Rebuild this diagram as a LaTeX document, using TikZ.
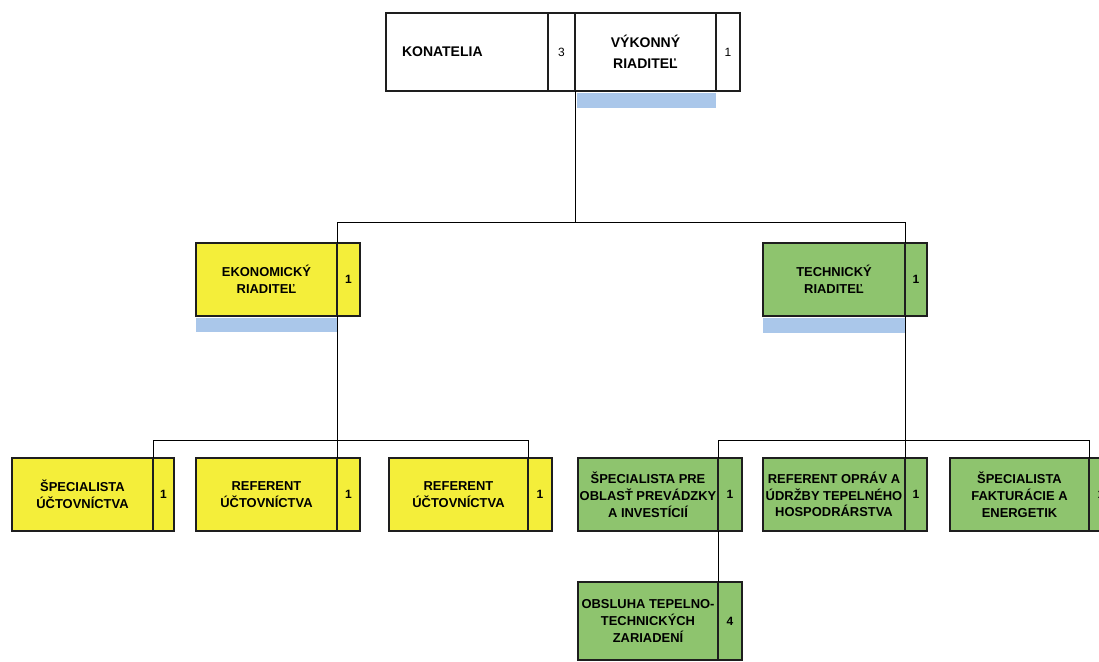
\documentclass[tikz,border=0pt]{standalone}
\usepackage{fontspec}
\setmainfont{Liberation Sans}
\definecolor{yel}{RGB}{244,238,58}
\definecolor{grn}{RGB}{142,196,110}
\definecolor{blu}{RGB}{170,199,234}
\definecolor{edge}{RGB}{30,30,30}
\begin{document}
\begin{tikzpicture}[x=0.75pt,y=-0.75pt]
\tikzset{
  main/.style={draw=edge, line width=1.3pt, inner sep=0pt, outer sep=0pt, align=center, anchor=north west,
    font=\bfseries\fontsize{9.7}{12.6}\selectfont},
  num/.style={draw=edge, line width=1.3pt, inner sep=0pt, outer sep=0pt, anchor=north west,
    font=\bfseries\fontsize{9}{10}\selectfont},
  topmain/.style={main, font=\bfseries\fontsize{10.5}{16}\selectfont, minimum height=58.5pt},
  topnum/.style={num, font=\fontsize{9}{10}\selectfont, minimum height=58.5pt},
  midrow/.style={minimum height=54.75pt},
  conn/.style={draw=black, line width=0.7pt},
  bar/.style={fill=blu, draw=none},
}
\useasboundingbox (0,0) rectangle (1099,661);
\clip (0,0) rectangle (1099,661);
\fill[white] (0,0) rectangle (1099,661);

\coordinate (bus1) at (0,222);
\coordinate (bus2) at (0,440);

% top
\node[topmain, fill=white, minimum width=121.5pt, text width=97.5pt, align=left, inner xsep=12pt] (kon) at (386,13) {KONATELIA};
\node[topnum, fill=white, minimum width=20.25pt] (konN) at (kon.north east) {3};
\node[topmain, fill=white, minimum width=105.75pt] (vyk) at (575,13) {VÝKONNÝ\\RIADITEĽ};
\node[topnum, fill=white, minimum width=18pt] (vykN) at (vyk.north east) {1};
\fill[bar] ([xshift=1.5pt,yshift=-1.5pt]vyk.south west) rectangle ([yshift=-12.5pt]vyk.south east);

% directors
\node[main, midrow, fill=yel, minimum width=105.75pt] (eko) at (196,243) {EKONOMICKÝ\\RIADITEĽ};
\node[num, midrow, fill=yel, minimum width=17.25pt] (ekoN) at (eko.north east) {1};
\fill[bar] ([yshift=-1.5pt]eko.south west) rectangle ([yshift=-12pt]eko.south east);

\node[main, midrow, fill=grn, minimum width=106.5pt] (tech) at (763,243) {TECHNICKÝ\\RIADITEĽ};
\node[num, midrow, fill=grn, minimum width=16.5pt] (techN) at (tech.north east) {1};
\fill[bar] ([yshift=-1.5pt]tech.south west) rectangle ([yshift=-12.5pt]tech.south east);

% economic staff
\node[main, midrow, fill=yel, minimum width=105.75pt] (y1) at (12,458) {ŠPECIALISTA\\ÚČTOVNÍCTVA};
\node[num, midrow, fill=yel, minimum width=15.75pt] (y1N) at (y1.north east) {1};
\node[main, midrow, fill=yel, minimum width=105.75pt] (y2) at (196,458) {REFERENT\\ÚČTOVNÍCTVA};
\node[num, midrow, fill=yel, minimum width=17.25pt] (y2N) at (y2.north east) {1};
\node[main, midrow, fill=yel, minimum width=104.25pt] (y3) at (389,458) {REFERENT\\ÚČTOVNÍCTVA};
\node[num, midrow, fill=yel, minimum width=18pt] (y3N) at (y3.north east) {1};

% technical staff
\node[main, midrow, fill=grn, minimum width=105pt] (g1) at (578,458) {ŠPECIALISTA PRE\\OBLASŤ PREVÁDZKY\\A INVESTÍCIÍ};
\node[num, midrow, fill=grn, minimum width=18pt] (g1N) at (g1.north east) {1};
\node[main, midrow, fill=grn, minimum width=106.5pt] (g2) at (763,458) {REFERENT OPRÁV A\\ÚDRŽBY TEPELNÉHO\\HOSPODRÁRSTVA};
\node[num, midrow, fill=grn, minimum width=16.5pt] (g2N) at (g2.north east) {1};
\node[main, midrow, fill=grn, minimum width=104.25pt] (g3) at (950,458) {ŠPECIALISTA\\FAKTURÁCIE A\\ENERGETIK};
\node[num, midrow, fill=grn, minimum width=18pt] (g3N) at (g3.north east) {1};
\node[main, fill=grn, minimum width=105pt, minimum height=58.5pt] (g4) at (578,582) {OBSLUHA TEPELNO-\\TECHNICKÝCH\\ZARIADENÍ};
\node[num, fill=grn, minimum width=18pt, minimum height=58.5pt] (g4N) at (g4.north east) {4};

% connectors
\draw[conn] (vyk.south west) -- (vyk.south west |- bus1);
\draw[conn] (eko.north east) -- (eko.north east |- bus1) -- (tech.north east |- bus1) -- (tech.north east);
\draw[conn] (eko.south east) -- (eko.south east |- bus2);
\draw[conn] (y1.north east) -- (y1.north east |- bus2) -- (y3.north east |- bus2) -- (y3.north east);
\draw[conn] (y2.north east) -- (y2.north east |- bus2);
\draw[conn] (tech.south east) -- (tech.south east |- bus2);
\draw[conn] (g1.north east) -- (g1.north east |- bus2) -- (g3.north east |- bus2) -- (g3.north east);
\draw[conn] (g2.north east) -- (g2.north east |- bus2);
\draw[conn] (g1.south east) -- (g4.north east);
\end{tikzpicture}
\end{document}
